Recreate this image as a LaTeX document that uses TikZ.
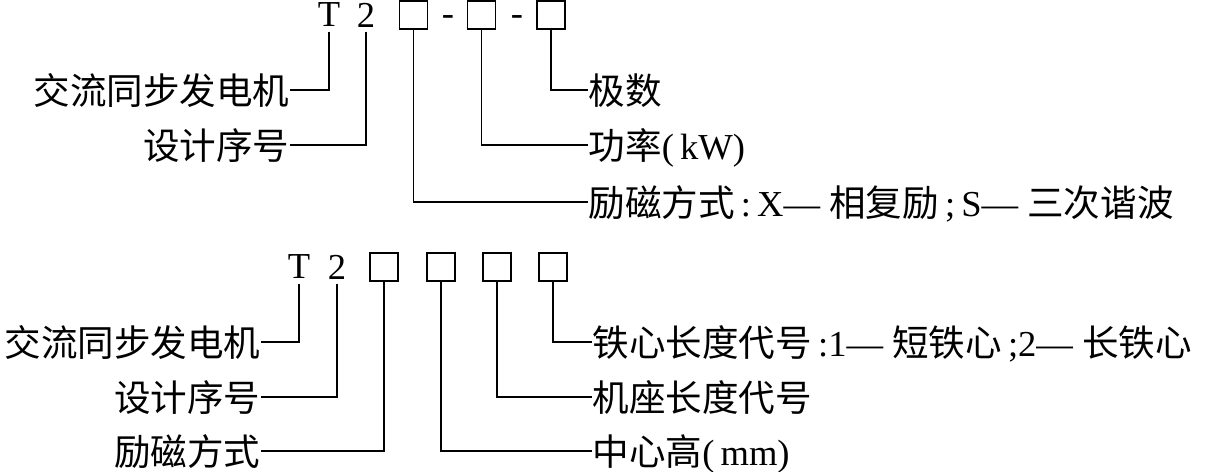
\documentclass[tikz,border=0pt]{standalone}
\usepackage{fontspec}
\setmainfont{Liberation Serif}
\newfontfamily\cjk{Noto Sans CJK SC}
\newcommand{\zh}[1]{{\cjk #1}}
\usetikzlibrary{positioning}

\tikzset{
  glyph/.style={inner sep=0,minimum width=0.7cm,minimum height=0.8cm,font=\fontsize{26}{30}\selectfont},
  hyph/.style={inner sep=0,text height=17pt,text depth=0pt,font=\fontsize{26}{30}\selectfont},
  slot/.style={draw,inner sep=0,minimum size=0.7cm,line width=1pt},
  lbl/.style={inner sep=0,text height=23pt,text depth=3pt,font=\fontsize{26}{30}\selectfont},
  lleft/.style={lbl,anchor=east},
  lright/.style={lbl,anchor=west}
}

\begin{document}
\begin{tikzpicture}[x=0.025cm,y=-0.025cm,line width=0.9pt]
\useasboundingbox (0,0) rectangle (1207,472);
% first code: T2X-X-X
\node[glyph] (t1) at (329,15) {T};
\node[glyph] (n1) at (366,15) {2};
\node[slot] (a1) at (413.5,15) {};
\node[hyph] (h1) at (448,14) {-};
\node[slot] (b1) at (481.5,15) {};
\node[hyph] (h2) at (517,14) {-};
\node[slot] (c1) at (551,15) {};
\node[lleft] (gen1) at (290,90) {\zh{交流同步发电机}};
\node[lleft] (ser1) at (290,145) {\zh{设计序号}};
\node[lright] (pole1) at (588,90) {\zh{极数}};
\node[lright] (pow1) at (588,145) {\zh{功率}(\,kW)};
\node[lright] (exc1) at (588,202) {\zh{励磁方式}\,:\,X— \zh{相复励}\,;\,S— \zh{三次谐波}};
\draw (t1.south) |- (gen1.east);
\draw (n1.south) |- (ser1.east);
\draw (a1.south) |- (exc1.west);
\draw (b1.south) |- (pow1.west);
\draw (c1.south) |- (pole1.west);
% second code: T2XXXX
\node[glyph] (t2) at (299,267) {T};
\node[glyph] (n2) at (337,267) {2};
\node[slot] (a2) at (384,267) {};
\node[slot] (b2) at (441,267) {};
\node[slot] (c2) at (497,267) {};
\node[slot] (d2) at (553,267) {};
\node[lleft] (gen2) at (261,342) {\zh{交流同步发电机}};
\node[lleft] (ser2) at (261,397) {\zh{设计序号}};
\node[lleft] (exc2) at (261,451) {\zh{励磁方式}};
\node[lright] (core2) at (592,342) {\zh{铁心长度代号}\,:1— \zh{短铁心}\,;2— \zh{长铁心}};
\node[lright] (frame2) at (592,397) {\zh{机座长度代号}};
\node[lright] (hgt2) at (592,451) {\zh{中心高}(\,mm)};
\draw (t2.south) |- (gen2.east);
\draw (n2.south) |- (ser2.east);
\draw (a2.south) |- (exc2.east);
\draw (b2.south) |- (hgt2.west);
\draw (c2.south) |- (frame2.west);
\draw (d2.south) |- (core2.west);
\end{tikzpicture}
\end{document}
